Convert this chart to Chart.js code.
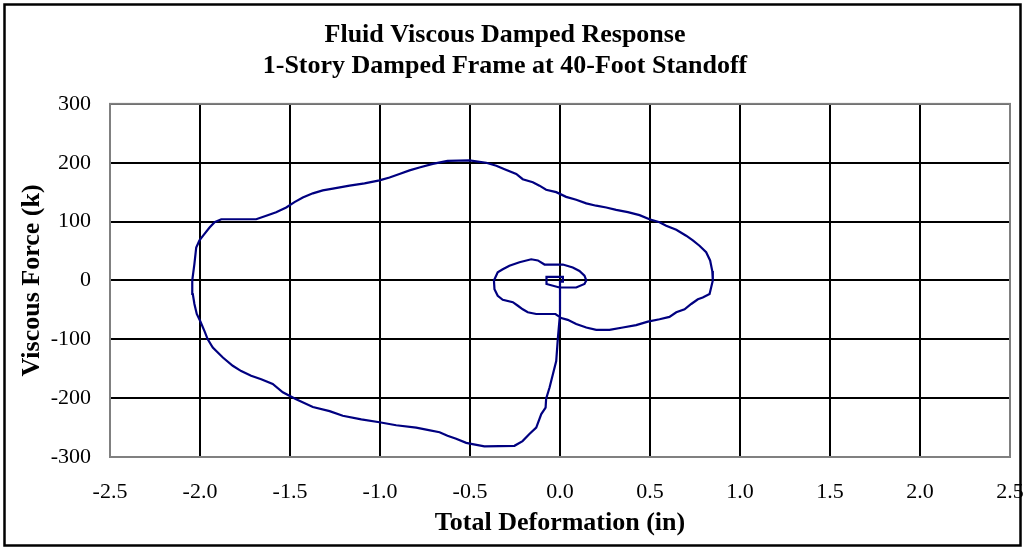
<!DOCTYPE html>
<html>
<head>
<meta charset="utf-8">
<script src="https://cdn.jsdelivr.net/npm/chart.js@4/dist/chart.umd.min.js"></script>
<style>
html,body{margin:0;padding:0;background:#fff;}
#wrap{width:1025px;height:550px;position:relative;}
</style>
</head>
<body>
<div id="wrap"><canvas id="c" width="1025" height="550"></canvas></div>
<script>
// ---- data ----
const titleLines = ['Fluid Viscous Damped Response', '1-Story Damped Frame at 40-Foot Standoff'];
const xAxisTitle = 'Total Deformation (in)';
const yAxisTitle = 'Viscous Force (k)';
const xTicks = [-2.5, -2.0, -1.5, -1.0, -0.5, 0.0, 0.5, 1.0, 1.5, 2.0, 2.5];
const yTicks = [-300, -200, -100, 0, 100, 200, 300];

const deformation = [
  0, 0, -0.012, -0.021, -0.058, -0.077, -0.08, -0.104, -0.132, -0.17,
  -0.208, -0.253, -0.42, -0.486, -0.521, -0.577, -0.625, -0.669, -0.736, -0.799,
  -0.91, -1.003, -1.104, -1.207, -1.28, -1.373, -1.466, -1.54, -1.596, -1.66,
  -1.716, -1.771, -1.818, -1.873, -1.929, -1.957, -1.975, -1.999, -2.018, -2.031,
  -2.04, -2.043,
  -2.031, -2.021, -2.003, -1.975, -1.947, -1.919, -1.882, -1.688, -1.632, -1.577,
  -1.521, -1.475, -1.429, -1.373, -1.318, -1.262, -1.169, -1.086, -1.003, -0.947,
  -0.892, -0.836, -0.781, -0.707, -0.625, -0.503, -0.41, -0.354,
  -0.308, -0.243, -0.207, -0.151, -0.114, -0.077, -0.021, 0.034, 0.09, 0.146,
  0.201, 0.257, 0.312, 0.377, 0.442, 0.497, 0.553, 0.59, 0.646, 0.701,
  0.738, 0.775, 0.812, 0.834, 0.846, 0.849, 0.831, 0.793,
  0.766, 0.729, 0.692, 0.646, 0.608, 0.553, 0.488, 0.423, 0.349, 0.275,
  0.201, 0.146, 0.09, 0.043, 0.007, -0.025, -0.132, -0.179, -0.207, -0.234,
  -0.262, -0.318, -0.346, -0.364, -0.367, -0.346, -0.318, -0.281, -0.225, -0.16,
  -0.123, -0.086, 0.016, 0.071, 0.108, 0.136, 0.146, 0.136, 0.09, -0.003,
  -0.075, -0.075, 0.016, 0.016, 0
];
const viscousForce = [
  0, -57, -99, -137, -182, -201, -216, -227, -250, -261,
  -273, -281, -282, -278, -276, -269, -264, -258, -254, -250,
  -246, -241, -236, -230, -222, -215, -202, -190, -176, -168,
  -162, -154, -145, -131, -114, -100, -86, -69, -57, -40,
  -23, 0,
  28, 56, 68, 79, 90, 99, 104, 104, 110, 116,
  124, 133, 141, 148, 153, 156, 161, 165, 170, 175,
  181, 187, 192, 198, 203, 204, 200, 195,
  189, 181, 172, 167, 161, 154, 150, 142, 137, 131,
  127, 124, 120, 116, 111, 104, 99, 93, 86, 76,
  68, 59, 48, 34, 16, 0, -23, -29,
  -32, -40, -49, -54, -62, -66, -70, -76, -80, -84,
  -84, -80, -74, -67, -64, -57, -57, -54, -49, -43,
  -37, -33, -26, -15, 0, 14, 19, 25, 31, 36,
  34, 27, 27, 22, 16, 8, 0, -6, -12, -12,
  -6, 6, 6, -2, -2
];

// ---- chart ----
const points = deformation.map((x, i) => ({x: x, y: viscousForce[i]}));
const FONT = "'Liberation Serif', 'Times New Roman', serif";
const xMin = xTicks[0], xMax = xTicks[xTicks.length - 1];
const yMin = yTicks[0], yMax = yTicks[yTicks.length - 1];

const framePlugin = {
  id: 'frames',
  beforeDatasetsDraw(chart) {
    const {ctx, chartArea: a} = chart;
    ctx.save();
    ctx.strokeStyle = '#808080';
    ctx.lineWidth = 2;
    ctx.strokeRect(a.left, a.top, a.right - a.left, a.bottom - a.top);
    ctx.restore();
  },
  afterDraw(chart) {
    const {ctx} = chart;
    ctx.save();
    ctx.strokeStyle = '#000';
    ctx.lineWidth = 2.5;
    ctx.strokeRect(4.5, 4.5, 1016, 541);
    ctx.restore();
  }
};

new Chart(document.getElementById('c'), {
  type: 'scatter',
  data: {
    datasets: [{
      data: points,
      showLine: true,
      borderColor: '#000080',
      borderWidth: 2.2,
      pointRadius: 0,
      pointHoverRadius: 0,
      tension: 0,
      fill: false
    }]
  },
  options: {
    responsive: false,
    animation: false,
    devicePixelRatio: 1,
    layout: {padding: {left: 0, right: 15, top: 0, bottom: 0}},
    plugins: {
      legend: {display: false},
      tooltip: {enabled: false},
      title: {
        display: true,
        text: titleLines,
        color: '#000',
        font: {family: FONT, size: 26, weight: 'bold', lineHeight: 1.19},
        padding: {top: 19.5, bottom: 22.5}
      }
    },
    scales: {
      x: {
        type: 'linear',
        min: xMin, max: xMax,
        afterBuildTicks: (s) => { s.ticks = xTicks.map(v => ({value: v})); },
        afterFit: (s) => { s.height = 93; s.paddingLeft = 0; s.paddingRight = 0; },
        grid: {color: '#000', lineWidth: 2, drawTicks: false},
        border: {display: false},
        ticks: {
          color: '#000', padding: 22,
          font: {family: FONT, size: 22},
          callback: (v) => Number(v).toFixed(1)
        },
        title: {
          display: true, text: xAxisTitle, color: '#000',
          font: {family: FONT, size: 26, weight: 'bold', lineHeight: 1.2},
          padding: {top: 0, bottom: 11.4}
        }
      },
      y: {
        type: 'linear',
        min: yMin, max: yMax,
        afterBuildTicks: (s) => { s.ticks = yTicks.map(v => ({value: v})); },
        afterFit: (s) => { s.width = 110; s.paddingTop = 0; s.paddingBottom = 0; },
        grid: {color: '#000', lineWidth: 2, drawTicks: false},
        border: {display: false},
        ticks: {
          color: '#000', padding: 19,
          font: {family: FONT, size: 22},
          callback: (v) => String(v)
        },
        title: {
          display: true, text: yAxisTitle, color: '#000',
          font: {family: FONT, size: 26, weight: 'bold', lineHeight: 1.2},
          padding: {top: 16.4, bottom: 0}
        }
      }
    }
  },
  plugins: [framePlugin]
});
</script>
</body>
</html>
